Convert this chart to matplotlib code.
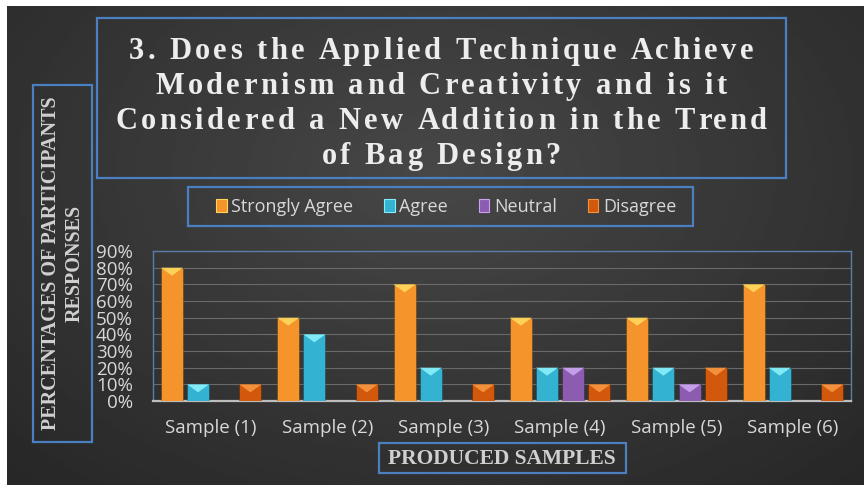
import numpy as np
import matplotlib
matplotlib.use("Agg")
import matplotlib.pyplot as plt
from matplotlib.patches import Rectangle, Polygon, Patch

# chart data (percent of responses)
samples = ["Sample (1)", "Sample (2)", "Sample (3)", "Sample (4)", "Sample (5)", "Sample (6)"]
series_names = ["Strongly Agree", "Agree", "Neutral", "Disagree"]
strongly_agree = [0.80, 0.50, 0.70, 0.50, 0.50, 0.70]
agree = [0.10, 0.40, 0.20, 0.20, 0.20, 0.20]
neutral = [0.00, 0.00, 0.00, 0.20, 0.10, 0.00]
disagree = [0.10, 0.10, 0.10, 0.10, 0.20, 0.10]
y_ticks = [0.0, 0.1, 0.2, 0.3, 0.4, 0.5, 0.6, 0.7, 0.8, 0.9]
y_tick_labels = ["0%", "10%", "20%", "30%", "40%", "50%", "60%", "70%", "80%", "90%"]

title_lines = ["3. Does the Applied Technique Achieve",
               "Modernism and Creativity and is it",
               "Considered a New Addition in the Trend",
               "of Bag Design?"]

colors = ["#F5942A", "#34B2D2", "#8B5CB0", "#D2580C"]
tops = ["#FFD65C", "#86EEFA", "#C9A2EE", "#F5943F"]
box_blue = "#4C7FC0"
W, H = 864, 490

fig = plt.figure(figsize=(8.64, 4.9), dpi=100)
fig.patch.set_facecolor("white")
renderer = fig.canvas.get_renderer()

# dark gradient background
bg = fig.add_axes([7 / W, 5 / H, 1 - 7 / W, 1 - 11 / H])
yy, xx = np.mgrid[0:1:200j, 0:1:300j]
r = np.sqrt(((xx - 0.5) / 0.75) ** 2 + ((yy - 0.35) / 0.9) ** 2)
bg.imshow(0.28 - 0.13 * np.clip(r, 0, 1), cmap="gray", vmin=0, vmax=1,
          aspect="auto", extent=[0, 1, 0, 1], origin="upper")
bg.set_axis_off()


def px_box(x0, y0, x1, y1):
    # rectangle given in pixel coords (top-left origin)
    fig.patches.append(Rectangle((x0 / W, 1 - y1 / H), (x1 - x0) / W, (y1 - y0) / H,
                                 transform=fig.transFigure, fill=False,
                                 edgecolor=box_blue, linewidth=1.6))


def text_width(s, **kw):
    t = fig.text(0, 0, s, **kw)
    w = t.get_window_extent(renderer).width
    t.remove()
    return w


def spaced_text(xc, y_base, s, spacing, **kw):
    # draw text letter by letter with extra tracking, centred on xc (pixels)
    total = text_width(s, **kw) + spacing * (len(s) - 1)
    x0 = xc - total / 2
    for i, ch in enumerate(s):
        if ch == " ":
            continue
        off = text_width(s[:i] + "|", **kw) - text_width("|", **kw) if i else 0
        fig.text((x0 + off + i * spacing) / W, 1 - y_base / H, ch,
                 ha="left", va="baseline", **kw)


# title
px_box(97, 18, 786, 178)
title_kw = dict(color="#EDEDED", family="Liberation Serif", fontweight="bold",
                fontsize=22)
for k, line in enumerate(title_lines):
    spaced_text(441, 59 + k * 35, line, 3.4, **title_kw)

# y label
px_box(33, 85, 92, 442)
fig.text(63 / W, 1 - 263 / H, "PERCENTAGES OF PARTICIPANTS\nRESPONSES", rotation=90,
         ha="center", va="center", color="#D0D0D0", family="Liberation Serif",
         fontweight="bold", fontsize=14.5, linespacing=1.25)

# x label
px_box(379, 443, 626, 473)
fig.text(502 / W, 1 - 459 / H, "PRODUCED SAMPLES", ha="center", va="center",
         color="#CFCFCF", family="Liberation Serif", fontweight="bold", fontsize=15.5)

# legend
px_box(188, 187, 693, 226)
handles = [Patch(facecolor=c, edgecolor=t, linewidth=0.8) for c, t in zip(colors, tops)]
leg = fig.legend(handles, series_names, loc="center", ncol=4, frameon=False,
                 bbox_to_anchor=(446 / W, 1 - 207 / H),
                 handlelength=0.6, handleheight=0.7, handletextpad=0.25,
                 columnspacing=1.7, prop={"family": "Open Sans", "size": 13})
for t in leg.get_texts():
    t.set_color("#D8D8D8")

# plot area
ax = fig.add_axes([153 / W, 1 - 401 / H, (851 - 153) / W, (401 - 251) / H])
ax.set_facecolor("none")
ax.set_xlim(-0.5, len(samples) - 0.5)
ax.set_ylim(0, 0.9)

x = np.arange(len(samples))
width = 0.19
step = 0.225
data = [strongly_agree, agree, neutral, disagree]
for i, vals in enumerate(data):
    xs = x + (i - 1.5) * step
    bars = ax.bar(xs, vals, width, color=colors[i], edgecolor="#00000040",
                  linewidth=0.6, zorder=3)
    # bevel-like light triangle on top of each bar
    for b in bars:
        h = b.get_height()
        if h <= 0:
            continue
        bx = b.get_x()
        bw = b.get_width()
        d = min(0.048, h * 0.6)
        ax.add_patch(Polygon([(bx, h), (bx + bw, h), (bx + bw / 2, h - d)],
                             closed=True, facecolor=tops[i], edgecolor="none",
                             alpha=0.95, zorder=4))

ax.set_yticks(y_ticks)
ax.set_yticklabels(y_tick_labels)
ax.set_xticks(x)
ax.set_xticklabels(samples)
ax.yaxis.grid(True, color="#6A6A6A", linewidth=0.8, zorder=0)
ax.set_axisbelow(True)
ax.tick_params(axis="both", length=0, colors="#D8D8D8")
ax.tick_params(axis="y", pad=14.5, labelsize=13.5)
ax.tick_params(axis="x", pad=13, labelsize=13.5)
for lab in ax.get_xticklabels() + ax.get_yticklabels():
    lab.set_family("Open Sans")
for side in ["top", "left", "right"]:
    ax.spines[side].set_color("#5A7DAA")
    ax.spines[side].set_linewidth(1.0)
ax.spines["bottom"].set_color("#BDBDBD")
ax.spines["bottom"].set_linewidth(1.6)

fig.savefig("out.png", dpi=100, facecolor=fig.get_facecolor())
